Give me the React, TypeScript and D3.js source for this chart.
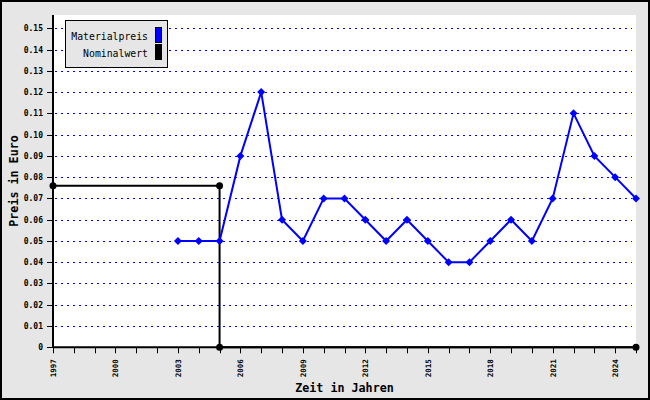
import React, { useEffect } from 'react';
import * as d3 from 'd3';

// Materialpreis, 2003..2025
const materialYears = [2003, 2004, 2005, 2006, 2007, 2008, 2009, 2010, 2011, 2012, 2013, 2014, 2015, 2016, 2017, 2018, 2019, 2020, 2021, 2022, 2023, 2024, 2025];
const materialValues = [0.05, 0.05, 0.05, 0.09, 0.12, 0.06, 0.05, 0.07, 0.07, 0.06, 0.05, 0.06, 0.05, 0.04, 0.04, 0.05, 0.06, 0.05, 0.07, 0.11, 0.09, 0.08, 0.07];

// Nominalwert (step line)
const nominalYears = [1997, 2005, 2005, 2025];
const nominalValues = [0.076, 0.076, 0, 0];

const yTicks = [0, 0.01, 0.02, 0.03, 0.04, 0.05, 0.06, 0.07, 0.08, 0.09, 0.1, 0.11, 0.12, 0.13, 0.14, 0.15];
const xLabelYears = [1997, 2000, 2003, 2006, 2009, 2012, 2015, 2018, 2021, 2024];
const legendLabels = ['Materialpreis', 'Nominalwert'];
const legendColors = ['#0000ff', '#000000'];

const D3Chart = () => {
  useEffect(() => {
    d3.select('#chart').select('svg').remove();
    const W = 650,
      H = 400;
    const margin = { top: 15, right: 14, bottom: 53, left: 53 };
    const font = "'DejaVu Sans Mono', monospace";

    const svg = d3
      .select('#chart')
      .append('svg')
      .attr('width', W)
      .attr('height', H)
      .style('position', 'absolute')
      .style('left', '0px')
      .style('top', '0px');

    svg.append('rect').attr('x', 1).attr('y', 1).attr('width', W - 2).attr('height', H - 2)
      .attr('fill', '#e6e6e6').attr('stroke', '#000').attr('stroke-width', 2);

    const x = d3.scaleLinear().domain([1997, 2025]).range([margin.left, W - margin.right]);
    const y = d3.scaleLinear().domain([0, 0.15625]).range([H - margin.bottom + 0.3, margin.top]);

    // plot area
    svg.append('rect').attr('x', margin.left).attr('y', margin.top)
      .attr('width', W - margin.right - margin.left).attr('height', H - margin.bottom - margin.top)
      .attr('fill', '#fff');

    // grid lines
    svg.append('g').selectAll('line').data(yTicks.filter(d => d > 0)).enter().append('line')
      .attr('x1', margin.left + 2).attr('x2', W - margin.right - 4)
      .attr('y1', d => Math.round(y(d)) + 0.5).attr('y2', d => Math.round(y(d)) + 0.5)
      .attr('stroke', '#0000ff').attr('stroke-width', 1).attr('stroke-dasharray', '2,4');

    // y axis
    const yAxis = svg.append('g');
    yAxis.append('line').attr('x1', margin.left).attr('x2', margin.left)
      .attr('y1', margin.top).attr('y2', y(0)).attr('stroke', '#000').attr('stroke-width', 2);
    yAxis.selectAll('line.tick').data(yTicks).enter().append('line').attr('class', 'tick')
      .attr('x1', margin.left - 6).attr('x2', margin.left)
      .attr('y1', d => Math.round(y(d)) + 0.5).attr('y2', d => Math.round(y(d)) + 0.5)
      .attr('stroke', '#000').attr('stroke-width', 1);
    yAxis.selectAll('text').data(yTicks).enter().append('text')
      .attr('x', margin.left - 10).attr('y', d => y(d) + 3)
      .attr('text-anchor', 'end').attr('font-family', font).attr('font-size', 8).attr('font-weight', 'bold')
      .text(d => (d === 0 ? '0' : d.toFixed(2)));

    // x axis
    const xAxis = svg.append('g');
    xAxis.append('line').attr('x1', margin.left).attr('x2', W - margin.right)
      .attr('y1', y(0)).attr('y2', y(0)).attr('stroke', '#000').attr('stroke-width', 2);
    xAxis.selectAll('line.tick').data(d3.range(1997, 2026)).enter().append('line').attr('class', 'tick')
      .attr('x1', d => Math.round(x(d)) + 0.5).attr('x2', d => Math.round(x(d)) + 0.5)
      .attr('y1', y(0)).attr('y2', y(0) + 6).attr('stroke', '#000').attr('stroke-width', 1);
    xAxis.selectAll('text').data(xLabelYears).enter().append('text')
      .attr('transform', d => 'translate(' + (x(d) + 3) + ',' + (y(0) + 12) + ') rotate(-90)')
      .attr('text-anchor', 'end').attr('font-family', font).attr('font-size', 7.5).attr('font-weight', 'bold')
      .text(d => String(d));

    // axis titles
    svg.append('text').attr('x', (margin.left + W - margin.right) / 2).attr('y', 392)
      .attr('text-anchor', 'middle').attr('font-family', font).attr('font-size', 11.7).attr('font-weight', 'bold')
      .text('Zeit in Jahren');
    svg.append('text').attr('transform', 'translate(18,' + (margin.top + H - margin.bottom) / 2 + ') rotate(-90)')
      .attr('text-anchor', 'middle').attr('font-family', font).attr('font-size', 11.7).attr('font-weight', 'bold')
      .text('Preis in Euro');

    // Nominalwert line
    const nominal = nominalYears.map((yr, i) => ({ yr, v: nominalValues[i] }));
    const line = d3.line<{ yr: number; v: number }>().x(d => x(d.yr)).y(d => y(d.v));
    svg.append('path').datum(nominal).attr('d', line).attr('fill', 'none')
      .attr('stroke', '#000').attr('stroke-width', 2);
    svg.append('g').selectAll('circle').data(nominal).enter().append('circle')
      .attr('cx', d => x(d.yr)).attr('cy', d => y(d.v)).attr('r', 3.5).attr('fill', '#000');

    // Materialpreis line
    const material = materialYears.map((yr, i) => ({ yr, v: materialValues[i] }));
    svg.append('path').datum(material).attr('d', line).attr('fill', 'none')
      .attr('stroke', '#0000ff').attr('stroke-width', 2);
    svg.append('g').selectAll('path').data(material).enter().append('path')
      .attr('d', d3.symbol(d3.symbolSquare, 32))
      .attr('transform', d => 'translate(' + x(d.yr) + ',' + y(d.v) + ') rotate(45)')
      .attr('fill', '#0000ff');

    // legend
    const lg = svg.append('g');
    lg.append('rect').attr('x', 65.5).attr('y', 20.5).attr('width', 102).attr('height', 47)
      .attr('fill', '#e6e6e6').attr('stroke', '#000').attr('stroke-width', 1);
    legendLabels.forEach((label, i) => {
      lg.append('text').attr('x', 148).attr('y', 40 + i * 17)
        .attr('text-anchor', 'end').attr('font-family', font).attr('font-size', 9.8)
        .text(label);
      lg.append('rect').attr('x', 155.5).attr('y', 27.5 + i * 17).attr('width', 6).attr('height', 15)
        .attr('fill', legendColors[i]).attr('stroke', '#000').attr('stroke-width', 1);
    });
  }, []);

  return <div id="chart"></div>;
};

export default function App() {
  return <D3Chart />;
}
